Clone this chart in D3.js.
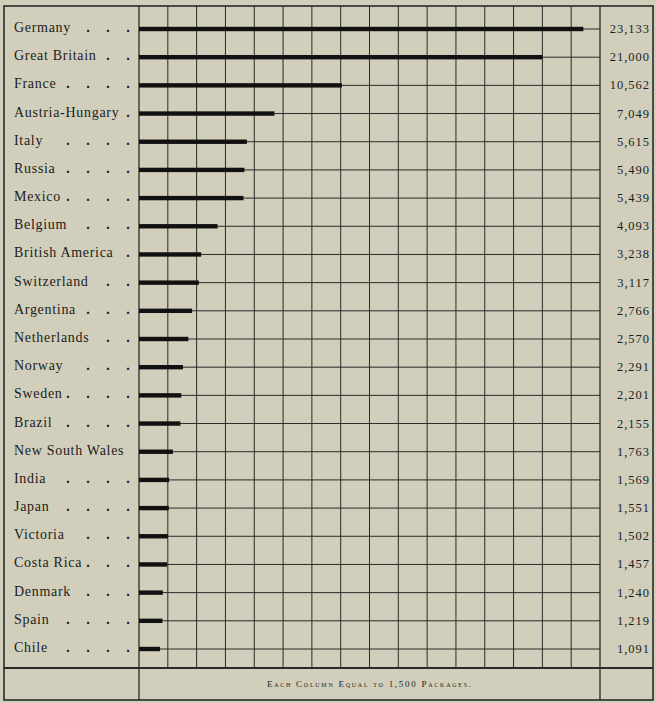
<!DOCTYPE html>
<html>
<head>
<meta charset="utf-8">
<script src="https://cdn.jsdelivr.net/npm/d3@7"></script>
<style>
  body { margin: 0; background: #d1cfbc; }
  svg { display: block; }
  text { font-family: "Liberation Serif", "DejaVu Serif", serif; fill: #1c1c1a; }
</style>
</head>
<body>
<svg id="chart" width="656" height="703"></svg>
<script>
const countries = ['Germany', 'Great Britain', 'France', 'Austria-Hungary', 'Italy', 'Russia',
  'Mexico', 'Belgium', 'British America', 'Switzerland', 'Argentina', 'Netherlands', 'Norway',
  'Sweden', 'Brazil', 'New South Wales', 'India', 'Japan', 'Victoria', 'Costa Rica', 'Denmark',
  'Spain', 'Chile'];
const packages = [23133, 21000, 10562, 7049, 5615, 5490, 5439, 4093, 3238, 3117, 2766, 2570,
  2291, 2201, 2155, 1763, 1569, 1551, 1502, 1457, 1240, 1219, 1091];
const columnSize = 1500;
const columnCount = 16;
const caption = 'Each Column Equal to 1,500 Packages.';

const box = { left: 4, right: 653, top: 6, bottom: 700 };
const gridLeft = 139;
const gridRight = 600;
const firstRow = 29;
const lastRow = 649;
const captionTop = 668;
const ink = '#2a2a27';

const svg = d3.select('#chart');

const x = d3.scaleLinear()
  .domain([0, columnSize * columnCount])
  .range([gridLeft, gridRight]);

const y = d3.scaleLinear()
  .domain([0, countries.length - 1])
  .range([firstRow, lastRow]);

const fmt = d3.format(',');

// vertical column lines
svg.append('g')
  .selectAll('line')
  .data(d3.range(1, columnCount).map(i => i * columnSize))
  .join('line')
  .attr('x1', d => x(d))
  .attr('x2', d => x(d))
  .attr('y1', box.top)
  .attr('y2', captionTop)
  .attr('stroke', ink)
  .attr('stroke-width', 1);

// horizontal row lines
svg.append('g')
  .selectAll('line')
  .data(countries)
  .join('line')
  .attr('x1', gridLeft)
  .attr('x2', gridRight)
  .attr('y1', (d, i) => y(i))
  .attr('y2', (d, i) => y(i))
  .attr('stroke', ink)
  .attr('stroke-width', 1);

// column dividers
[gridLeft, gridRight].forEach((cx) => {
  svg.append('line')
    .attr('x1', cx).attr('x2', cx)
    .attr('y1', box.top).attr('y2', box.bottom)
    .attr('stroke', ink)
    .attr('stroke-width', 1.3);
});

// caption divider
svg.append('line')
  .attr('x1', box.left).attr('x2', box.right)
  .attr('y1', captionTop).attr('y2', captionTop)
  .attr('stroke', ink)
  .attr('stroke-width', 2);

// outer border
svg.append('rect')
  .attr('x', box.left)
  .attr('y', box.top)
  .attr('width', box.right - box.left)
  .attr('height', box.bottom - box.top)
  .attr('fill', 'none')
  .attr('stroke', ink)
  .attr('stroke-width', 1.6);

// bars
svg.append('g')
  .selectAll('rect')
  .data(packages)
  .join('rect')
  .attr('x', x(0))
  .attr('y', (d, i) => y(i) - 2.2)
  .attr('width', d => x(d) - x(0))
  .attr('height', 4.4)
  .attr('fill', '#111');

// labels with dot leaders
const labels = svg.append('g');
countries.forEach((c, i) => {
  const t = labels.append('text')
    .attr('x', 14)
    .attr('y', y(i) + 3)
    .attr('font-size', 14)
    .attr('letter-spacing', 0.7)
    .text(c);
  const end = 14 + t.node().getComputedTextLength();
  for (let dx = 128; dx > end + 5; dx -= 20) {
    labels.append('text')
      .attr('x', dx)
      .attr('y', y(i) + 3)
      .attr('font-size', 14)
      .attr('font-weight', 'bold')
      .attr('text-anchor', 'middle')
      .text('.');
  }
});

// values
svg.append('g')
  .selectAll('text')
  .data(packages)
  .join('text')
  .attr('x', 650)
  .attr('y', (d, i) => y(i) + 4)
  .attr('text-anchor', 'end')
  .attr('font-size', 12.5)
  .attr('letter-spacing', 1)
  .text(d => fmt(d));

// caption
svg.append('text')
  .attr('x', 267)
  .attr('y', 687)
  .attr('font-size', 9)
  .style('font-variant', 'small-caps')
  .attr('textLength', 204)
  .attr('lengthAdjust', 'spacing')
  .text(caption);
</script>
</body>
</html>
